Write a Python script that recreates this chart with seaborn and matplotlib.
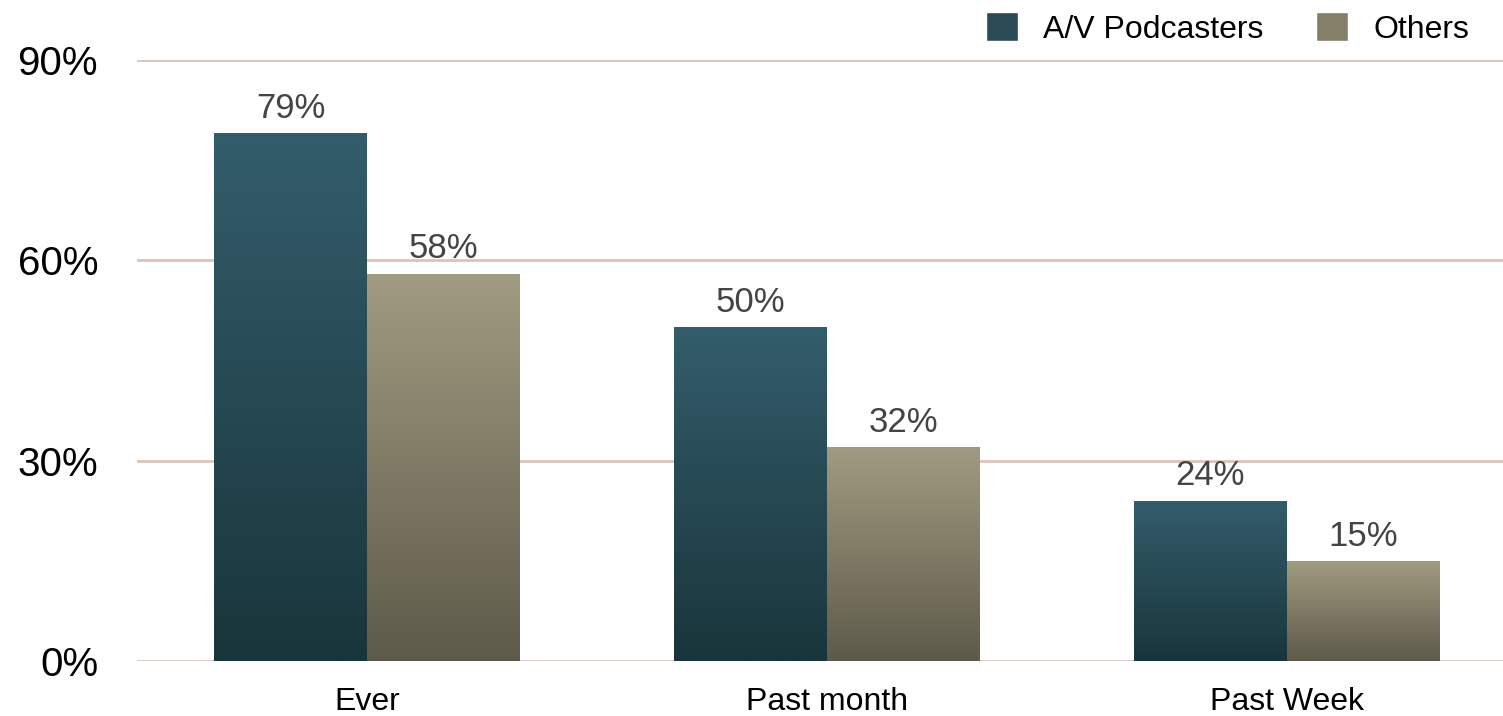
import numpy as np
import pandas as pd
import matplotlib
matplotlib.use("Agg")
import matplotlib.pyplot as plt
import seaborn as sns
from matplotlib.colors import LinearSegmentedColormap
from matplotlib.patches import Patch

# Datos
categorias = ["Ever", "Past month", "Past Week"]
podcasters = [79, 50, 24]
otros = [58, 32, 15]
series = ["A/V Podcasters", "Others"]
yticks = [0, 30, 60, 90]

df = pd.DataFrame({
    "cat": categorias * 2,
    "grupo": [series[0]] * 3 + [series[1]] * 3,
    "valor": podcasters + otros,
})

# Colores de degradado (arriba, abajo)
grad = {
    series[0]: ("#335d6b", "#19353b"),
    series[1]: ("#a19b81", "#5e5a4a"),
}
leyenda_col = {series[0]: "#2a4b55", series[1]: "#857f69"}

sns.set_theme(style="white")
plt.rcParams["font.family"] = ["Liberation Sans", "DejaVu Sans"]

fig = plt.figure(figsize=(15.03, 7.16), dpi=100)
ax = fig.add_axes([137 / 1503, 55 / 716, 1 - 137 / 1503, 601 / 716])

sns.barplot(data=df, x="cat", y="valor", hue="grupo", order=categorias,
            hue_order=series, width=0.665, palette=[grad[s][0] for s in series],
            ax=ax, legend=False, saturation=1)

# Rellenar cada barra con un degradado vertical
for cont, s in zip(ax.containers, series):
    cmap = LinearSegmentedColormap.from_list(s, [grad[s][1], grad[s][0]])
    for bar in cont:
        x0, y0 = bar.get_x(), bar.get_y()
        w, h = bar.get_width(), bar.get_height()
        bar.set_facecolor("none")
        bar.set_edgecolor("none")
        img = ax.imshow(np.linspace(0, 1, 256).reshape(-1, 1), cmap=cmap,
                        extent=[x0, x0 + w, y0, y0 + h], origin="lower",
                        aspect="auto", zorder=2)
        img.set_clip_path(bar)
    ax.bar_label(cont, labels=[f"{v:.0f}%" for v in cont.datavalues],
                 padding=6, fontsize=25, color="#444444")

ax.set_xlim(-0.5, 2.47)
ax.set_ylim(0, 90)
ax.set_yticks(yticks)
ax.set_yticklabels([f"{t}%" for t in yticks], fontsize=29)
ax.tick_params(axis="x", labelsize=23, pad=19, length=0, labelcolor="black")
ax.tick_params(axis="y", pad=28, length=0, labelcolor="black")
ax.yaxis.grid(True, color="#dcc4bb", linewidth=2)
ax.set_axisbelow(True)
for sp in ax.spines.values():
    sp.set_visible(False)
ax.set_xlabel("")
ax.set_ylabel("")

handles = [Patch(facecolor=leyenda_col[s], label=s) for s in series]
leg = fig.legend(handles=handles, loc="upper right", bbox_to_anchor=(0.997, 1.023),
                 ncol=2, frameon=False, fontsize=23, handlelength=1.0,
                 handleheight=1.0, columnspacing=1.65, handletextpad=0.8)
for t in leg.get_texts():
    t.set_color("black")

fig.savefig("out.png", dpi=100)
